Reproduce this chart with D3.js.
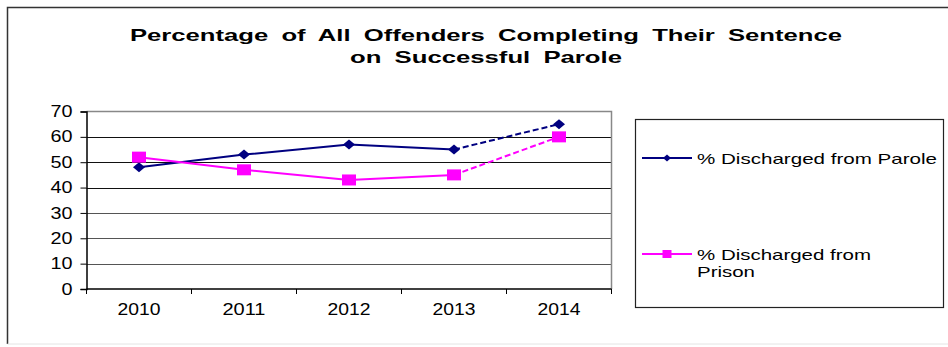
<!DOCTYPE html>
<html>
<head>
<style>
  body { margin: 0; background: #fff; }
  text { font-family: Arial, "Liberation Sans", sans-serif; fill: #000; }
</style>
</head>
<body>
<div class="graph"></div>
<script src="https://cdn.jsdelivr.net/npm/d3@7"></script>
<script>
  var years = ['2010', '2011', '2012', '2013', '2014']
  var parole = [48, 53, 57, 55, 65]
  var prison = [52, 47, 43, 45, 60]
  var yTicks = [0, 10, 20, 30, 40, 50, 60, 70]
  var titleLines = ['Percentage of All Offenders Completing Their Sentence', 'on Successful Parole']
  var seriesNames = ['% Discharged from Parole', '% Discharged from Prison']

  var width = 948, height = 347
  var plot = { left: 86.5, right: 611.5, top: 111.5, bottom: 289 }

  var svg = d3.select('.graph').append('svg')
    .attr('width', width)
    .attr('height', height)

  // outer frame (bottom edge is faint in the original)
  svg.append('path')
    .attr('d', 'M7.5,344V7.5H960')
    .style('fill', 'none')
    .style('stroke', '#333')
    .style('stroke-width', 1.5)
  svg.append('line')
    .attr('x1', 7.5).attr('x2', 948).attr('y1', 344).attr('y2', 344)
    .style('stroke', '#e4e4e4')

  // title
  svg.selectAll('.title').data(titleLines).enter().append('text')
    .attr('class', 'title')
    .attr('x', 486)
    .attr('y', function (d, i) { return 41 + i * 22 })
    .attr('text-anchor', 'middle')
    .attr('textLength', function (d, i) { return i == 0 ? 712 : 272 })
    .attr('lengthAdjust', 'spacingAndGlyphs')
    .style('font-size', '17px')
    .style('font-weight', 'bold')
    .style('word-spacing', '4px')
    .text(function (d) { return d })

  var x = d3.scaleBand().domain(years).range([plot.left, plot.right])
  var y = d3.scaleLinear().domain([0, 70]).range([plot.bottom, plot.top])

  // gridlines
  svg.append('g').selectAll('line').data(yTicks.slice(1, -1)).enter().append('line')
    .attr('x1', plot.left).attr('x2', plot.right)
    .attr('y1', function (d) { return Math.round(y(d)) + 0.5 })
    .attr('y2', function (d) { return Math.round(y(d)) + 0.5 })
    .style('stroke', function (d) { return d >= 40 ? '#111' : '#555' })
    .style('stroke-width', 1)

  // top and right plot border
  svg.append('path')
    .attr('d', 'M' + plot.left + ',' + plot.top + 'H' + plot.right + 'V' + plot.bottom)
    .style('fill', 'none')
    .style('stroke', '#888')
    .style('stroke-width', 1.5)

  // y axis
  var yAxis = svg.append('g')
    .attr('transform', 'translate(' + plot.left + ',0)')
    .call(d3.axisLeft(y).tickValues(yTicks).tickSize(6).tickPadding(8))
  yAxis.select('.domain').style('stroke', '#000').style('stroke-width', 1.5)
  yAxis.selectAll('.tick line').style('stroke', '#000')
  yAxis.selectAll('text')
    .style('font-size', '16px')
    .style('font-family', 'Arial, "Liberation Sans", sans-serif')
    .attr('fill', '#000')
    .attr('textLength', function (d) { return d == 0 ? 11 : 22 })
    .attr('lengthAdjust', 'spacingAndGlyphs')

  // x axis, ticks at category boundaries
  var xg = svg.append('g').attr('transform', 'translate(0,' + plot.bottom + ')')
  xg.append('line')
    .attr('x1', plot.left).attr('x2', plot.right)
    .style('stroke', '#000').style('stroke-width', 1.5)
  xg.selectAll('.tk').data(years.concat(['end'])).enter().append('line')
    .attr('x1', function (d, i) { return i < years.length ? x(d) : plot.right })
    .attr('x2', function (d, i) { return i < years.length ? x(d) : plot.right })
    .attr('y1', 0).attr('y2', 5)
    .style('stroke', '#000')
  xg.selectAll('text').data(years).enter().append('text')
    .attr('x', function (d) { return x(d) + x.bandwidth() / 2 })
    .attr('y', 26)
    .attr('text-anchor', 'middle')
    .attr('textLength', 43)
    .attr('lengthAdjust', 'spacingAndGlyphs')
    .style('font-size', '17px')
    .text(function (d) { return d })

  var cx = function (i) { return x(years[i]) + x.bandwidth() / 2 }

  function diamond(w, h) {
    return 'M0,' + (-h / 2) + 'L' + (w / 2) + ',0L0,' + (h / 2) + 'L' + (-w / 2) + ',0Z'
  }
  function square(w, h) {
    return 'M' + (-w / 2) + ',' + (-h / 2) + 'h' + w + 'v' + h + 'h' + (-w) + 'Z'
  }

  var series = [
    { name: seriesNames[0], values: parole, color: '#000080', marker: diamond(12, 10), legendMarker: diamond(8, 7) },
    { name: seriesNames[1], values: prison, color: '#FF00FF', marker: square(14, 11), legendMarker: square(9, 8) }
  ]

  var line = d3.line()
    .x(function (d) { return cx(d.i) })
    .y(function (d) { return y(d.v) })

  series.forEach(function (s) {
    var pts = s.values.map(function (v, i) { return { i: i, v: v } })
    var n = pts.length
    svg.append('path')
      .attr('d', line(pts.slice(0, n - 1)))
      .style('fill', 'none').style('stroke', s.color).style('stroke-width', 2)
    svg.append('path')
      .attr('d', line(pts.slice(n - 2)))
      .style('fill', 'none').style('stroke', s.color).style('stroke-width', 2)
      .style('stroke-dasharray', '6,3')
    svg.append('g').selectAll('path').data(pts).enter().append('path')
      .attr('transform', function (d) { return 'translate(' + cx(d.i) + ',' + y(d.v) + ')' })
      .attr('d', s.marker)
      .style('fill', s.color)
  })

  // legend
  var legend = svg.append('g')
  legend.append('rect')
    .attr('x', 635.5).attr('y', 119.5)
    .attr('width', 308).attr('height', 188)
    .style('fill', '#fff')
    .style('stroke', '#222')
    .style('stroke-width', 1.2)

  var legendY = [158, 254]
  series.forEach(function (s, k) {
    var ly = legendY[k]
    legend.append('line')
      .attr('x1', 642).attr('x2', 692)
      .attr('y1', ly).attr('y2', ly)
      .style('stroke', s.color).style('stroke-width', 2)
    legend.append('path')
      .attr('transform', 'translate(667,' + ly + ')')
      .attr('d', s.legendMarker)
      .style('fill', s.color)
  })
  legend.append('text')
    .attr('x', 697).attr('y', 164)
    .attr('textLength', 240)
    .attr('lengthAdjust', 'spacingAndGlyphs')
    .style('font-size', '15px')
    .text(seriesNames[0])
  var prisonWords = seriesNames[1].split(' ')
  legend.append('text')
    .attr('x', 697).attr('y', 260)
    .attr('textLength', 174)
    .attr('lengthAdjust', 'spacingAndGlyphs')
    .style('font-size', '15px')
    .text(prisonWords.slice(0, 3).join(' '))
  legend.append('text')
    .attr('x', 697).attr('y', 277)
    .attr('textLength', 58)
    .attr('lengthAdjust', 'spacingAndGlyphs')
    .style('font-size', '15px')
    .text(prisonWords[3])
</script>
</body>
</html>
